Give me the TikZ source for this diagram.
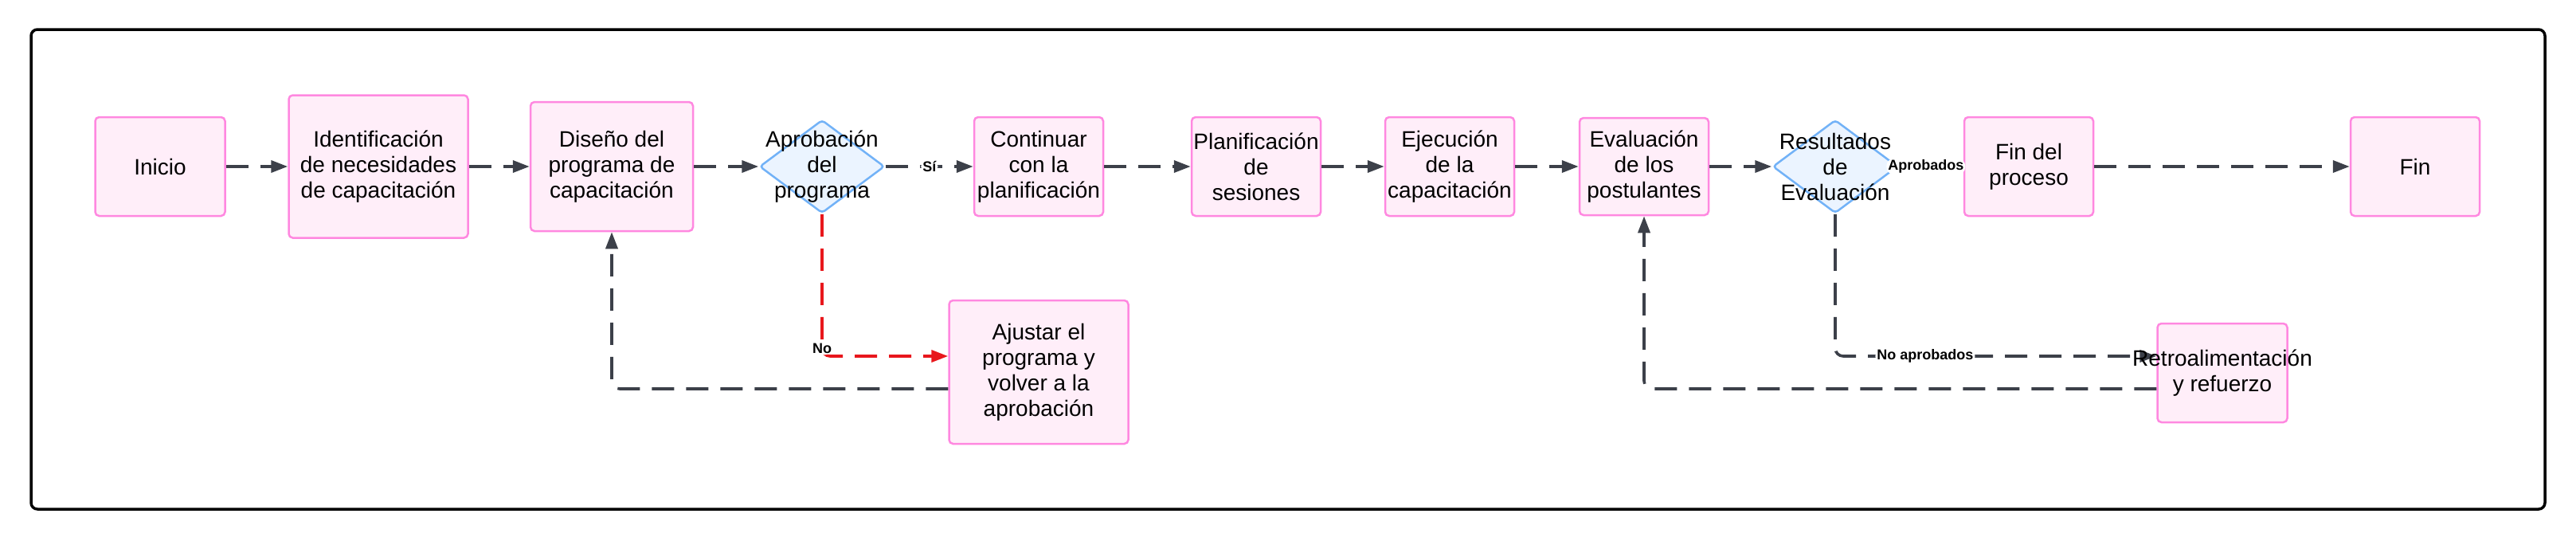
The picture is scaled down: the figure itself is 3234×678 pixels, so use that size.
\documentclass[tikz,border=0pt]{standalone}
\usepackage{fontspec}
\setmainfont{Liberation Sans}
\usetikzlibrary{arrows.meta,shapes.geometric}
\definecolor{boxfill}{HTML}{FFEEF9}
\definecolor{boxline}{HTML}{FF88E0}
\definecolor{diafill}{HTML}{EBF4FF}
\definecolor{dialine}{HTML}{72B2F7}
\definecolor{edgecol}{HTML}{3C4049}
\definecolor{nored}{HTML}{E8171C}
\begin{document}
\begin{tikzpicture}[x=1pt,y=-1pt,
  proc/.style={draw=boxline, fill=boxfill, line width=2.5pt, rounded corners=5pt, inner sep=0pt, align=center, text=black, font=\fontsize{28pt}{32pt}\selectfont},
  txt/.style={align=center, inner sep=0pt, text=black, font=\fontsize{28pt}{32pt}\selectfont},
  dia/.style={diamond, draw=dialine, fill=diafill, line width=2.5pt, rounded corners=4pt, minimum width=157pt, minimum height=117pt, inner sep=0pt},
  flow/.style={draw=edgecol, line width=3.6pt, dash pattern=on 28pt off 15pt, rounded corners=10pt, -{Triangle[length=21pt,width=15pt]}},
  lbl/.style={font=\fontsize{18pt}{20pt}\selectfont\bfseries, fill=white, inner sep=2pt, text=black}]
\useasboundingbox (0,0) rectangle (3234,678);
\draw[line width=3.5pt, rounded corners=8pt] (39,37) rectangle (3195,639);

\node[proc, minimum width=163pt, minimum height=124pt] (inicio) at (201,209) {Inicio};
\node[proc, minimum width=225pt, minimum height=179pt] (ident) at (475,209) {Identificación\\de necesidades\\de capacitación};
\node[proc, minimum width=204pt, minimum height=162pt] (diseno) at (768,209) {Diseño del\\programa de\\capacitación};
\node[dia] (apr) at (1032,209) {};
\node[proc, minimum width=162pt, minimum height=124pt] (cont) at (1304,209) {Continuar\\con la\\planificación};
\node[proc, minimum width=162pt, minimum height=124pt] (plan) at (1577,209) {Planificación\\de\\sesiones};
\node[proc, minimum width=162pt, minimum height=124pt] (ejec) at (1820,209) {Ejecución\\de la\\capacitación};
\node[proc, minimum width=162pt, minimum height=122pt] (eval) at (2064,209) {Evaluación\\de los\\postulantes};
\node[dia] (res) at (2304,209) {};
\node[proc, minimum width=162pt, minimum height=124pt] (finp) at (2547,209) {Fin del\\proceso};
\node[proc, minimum width=162pt, minimum height=124pt] (fin) at (3032,209) {Fin};
\node[proc, minimum width=225pt, minimum height=180pt] (ajus) at (1304,467) {Ajustar el\\programa y\\volver a la\\aprobación};
\node[proc, minimum width=163pt, minimum height=124pt] (retro) at (2790,468) {};

\draw[flow] (inicio) -- (ident);
\draw[flow] (ident) -- (diseno);
\draw[flow] (diseno) -- (apr);
\draw[flow] (apr) -- node[lbl]{Sí} (cont);
\draw[flow, draw=nored] (apr.south) |- node[lbl, pos=0.5, yshift=10pt]{No} ([yshift=20pt]ajus.west);
\draw[flow] ([yshift=-21pt]ajus.west) -| (diseno.south);
\draw[flow] (cont) -- (plan);
\draw[flow] (plan) -- (ejec);
\draw[flow] (ejec) -- (eval);
\draw[flow] (eval) -- (res);
\draw[flow] (res.east) -- node[lbl, pos=0.42]{Aprobados} (finp);
\draw[flow] (res.south) |- node[lbl, pos=0.64]{No aprobados} ([yshift=21pt]retro.west);
\draw[flow] ([yshift=-20pt]retro.west) -| (eval.south);
\draw[flow] (finp) -- (fin);

\node[txt] (aprt) at (apr) {Aprobación\\del\\programa};
\node[txt] (rest) at (res) {Resultados\\de\\Evaluación};
\node[txt] (retrot) at (retro) {Retroalimentación\\y refuerzo};
\end{tikzpicture}
\end{document}
